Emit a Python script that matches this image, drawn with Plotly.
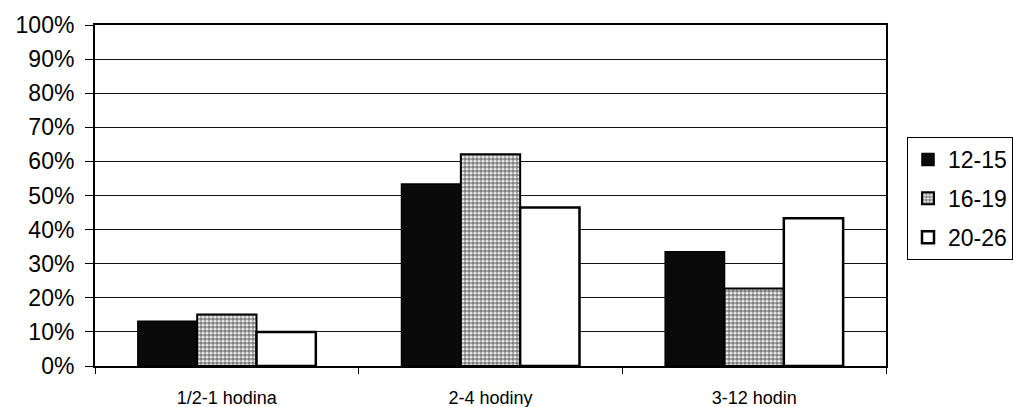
import plotly.graph_objects as go

categories = ["1/2-1 hodina", "2-4 hodiny", "3-12 hodin"]
series_names = ["12-15", "16-19", "20-26"]
v_12_15 = [13.1, 53.4, 33.5]
v_16_19 = [15.1, 62.1, 22.7]
v_20_26 = [10.0, 46.5, 43.3]
y_ticks = [0, 10, 20, 30, 40, 50, 60, 70, 80, 90, 100]
y_tick_labels = [f"{v}%" for v in y_ticks]

FONT = "Liberation Sans, Arial, sans-serif"

fig = go.Figure()
fig.add_trace(go.Bar(
    x=categories, y=v_12_15, name=series_names[0], legendgroup="a",
    marker=dict(color="#0a0a0a", line=dict(color="black", width=1.5)),
))
fig.add_trace(go.Bar(
    x=categories, y=v_16_19, name=series_names[1], legendgroup="b",
    marker=dict(color="white", line=dict(color="black", width=2),
                pattern=dict(shape=".", fgcolor="black", bgcolor="white",
                             size=4, solidity=0.68, fillmode="overlay")),
))
fig.add_trace(go.Bar(
    x=categories, y=v_20_26, name=series_names[2], legendgroup="c",
    marker=dict(color="white", line=dict(color="black", width=2.5)),
))

fig.update_layout(
    width=1013, height=407,
    margin=dict(l=95, r=127, t=25, b=41),
    paper_bgcolor="white", plot_bgcolor="white",
    barmode="group", bargap=0.325, bargroupgap=0,
    font=dict(family=FONT, color="black"),
    showlegend=True,
    legend=dict(
        xref="container", yref="container",
        x=907/1013, y=1-137/407, xanchor="left", yanchor="top",
        bordercolor="black", borderwidth=1, bgcolor="white",
        font=dict(size=23, family=FONT, color="black"),
        traceorder="grouped", tracegroupgap=6,
        itemwidth=30,
    ),
)
fig.update_yaxes(
    range=[0, 100], tickmode="array", tickvals=y_ticks, ticktext=y_tick_labels,
    showgrid=True, gridcolor="#111", gridwidth=1.3,
    ticks="outside", ticklen=8, tickcolor="black", tickwidth=1.3,
    showline=True, linecolor="black", linewidth=2, mirror=True,
    tickfont=dict(size=23, family=FONT, color="black"),
    ticklabelstandoff=6, zeroline=False, automargin=False,
)
fig.update_xaxes(
    type="category", tickson="boundaries",
    ticks="outside", ticklen=6, tickcolor="black", tickwidth=1,
    showline=True, linecolor="black", linewidth=2, mirror=True,
    tickfont=dict(size=18, family=FONT, color="black"),
    ticklabelstandoff=14, showgrid=False, automargin=False,
)

fig.write_html("out.html")
